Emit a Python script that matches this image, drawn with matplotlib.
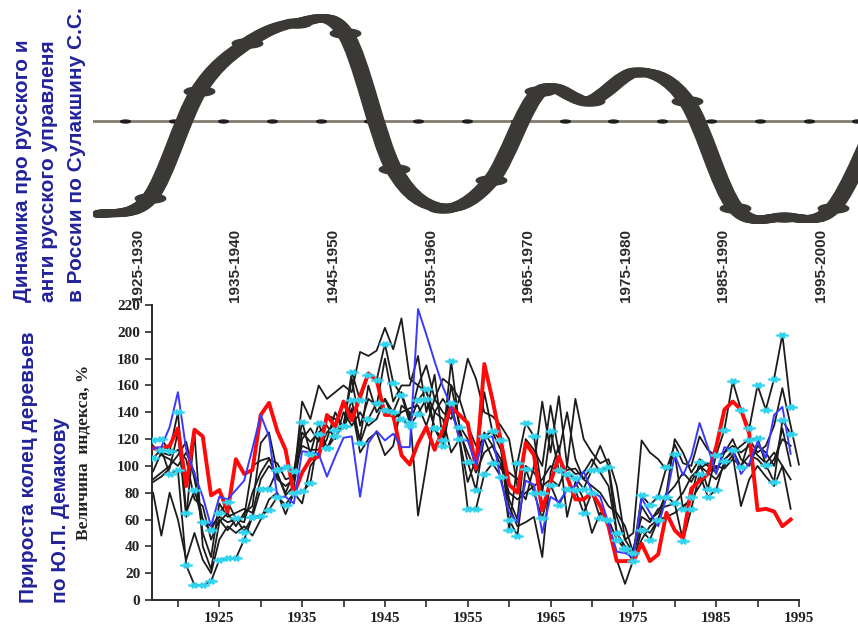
# -*- coding: utf-8 -*-
# Two stacked panels: Sulakshin cycle (top) and tree-ring index (bottom)

import numpy as np
import matplotlib.pyplot as plt
from matplotlib.path import Path
from matplotlib.patches import PathPatch
from matplotlib.transforms import offset_copy, ScaledTranslation
from matplotlib.ticker import MultipleLocator, FuncFormatter


# %% data
# -------

# top panel: five-year periods and the index (above / below the zero line)
periods = ['1920-1925', '1925-1930', '1930-1935', '1935-1940', '1940-1945',
           '1945-1950', '1950-1955', '1955-1960', '1960-1965', '1965-1970',
           '1970-1975', '1975-1980', '1980-1985', '1985-1990', '1990-1995',
           '1995-2000', '2000-2005']
cycle = [-9.3, -7.7, 3.0, 7.8, 9.8, 8.8, -4.8, -8.7, -5.9, 3.0,
         2.0, 4.9, 2.0, -8.7, -9.6, -8.7, 1.0]

# bottom panel: tree-ring index, %
years = list(range(1917, 1996))

red = [113, 113, 115, 128, 85, 127, 122, 78, 82, 66,
       105, 94, 97, 138, 147, 126, 112, 79, 95, 105,
       107, 138, 129, 148, 134, 152, 169, 164, 138, 138,
       108, 101, 117, 129, 112, 127, 144, 138, 132, 98,
       176, 149, 119, 86, 80, 117, 108, 67, 88, 107,
       92, 75, 75, 80, 70, 55, 29, 29, 29, 42,
       29, 34, 65, 52, 46, 83, 89, 94, 114, 142,
       148, 142, 124, 67, 68, 66, 55, 60]

blue = [113, 114, 129, 155, 112, 94, 77, 55, 77, 75,
        82, 89, 113, 138, 122, 77, 77, 72, 111, 110,
        109, 92, 107, 121, 122, 77, 117, 126, 119, 124,
        114, 114, 217, 198, 178, 159, 144, 119, 119, 101,
        121, 122, 89, 65, 58, 89, 86, 50, 77, 73,
        82, 85, 96, 81, 77, 57, 36, 35, 32, 76,
        65, 55, 77, 108, 93, 107, 132, 114, 94, 114,
        112, 94, 102, 118, 106, 138, 144, 109]

cyan_hi = [119, 120, 111, 140, 65, 82, 58, 52, 65, 73,
           61, 51, 62, 83, 83, 97, 99, 96, 133, 109,
           132, 113, 127, 130, 170, 149, 168, 164, 191, 162,
           153, 132, 149, 157, 128, 119, 178, 129, 103, 82,
           122, 126, 119, 52, 102, 132, 122, 80, 126, 97,
           94, 91, 83, 97, 97, 99, 50, 39, 35, 78,
           71, 77, 99, 109, 68, 77, 103, 83, 108, 127,
           163, 142, 128, 160, 142, 165, 198, 144]

cyan_lo = [106, 112, 94, 97, 26, 11, 11, 14, 30, 31,
           31, 45, 62, 63, 67, 77, 71, 80, 81, 87,
           124, 113, 122, 130, 149, 117, 135, 147, 142, 140,
           135, 130, 139, 150, 128, 115, 147, 120, 68, 68,
           94, 102, 92, 60, 48, 98, 80, 61, 86, 71,
           83, 82, 65, 80, 61, 60, 45, 38, 29, 52,
           45, 60, 77, 72, 44, 68, 94, 77, 82, 104,
           112, 99, 119, 121, 101, 88, 134, 124]

black_1 = [90, 95, 100, 108, 118, 90, 60, 55, 62, 58,
           60, 62, 100, 104, 106, 90, 85, 90, 148, 135,
           160, 150, 155, 160, 155, 185, 182, 186, 203, 187,
           210, 165, 160, 175, 150, 165, 160, 150, 180, 165,
           140, 137, 130, 120, 85, 75, 100, 148, 110, 152,
           100, 150, 120, 110, 102, 105, 85, 45, 50, 119,
           110, 105, 97, 116, 102, 100, 122, 112, 107, 110,
           115, 110, 115, 108, 102, 110, 100, 90]

black_2 = [80, 48, 80, 60, 30, 50, 30, 20, 45, 55,
           50, 55, 48, 60, 75, 80, 64, 80, 72, 100,
           108, 120, 140, 128, 143, 110, 120, 125, 108, 115,
           145, 140, 63, 100, 140, 135, 110, 120, 88, 105,
           125, 115, 105, 70, 55, 58, 62, 32, 95, 115,
           62, 88, 75, 50, 65, 58, 30, 12, 30, 45,
           55, 60, 78, 85, 95, 88, 100, 95, 90, 100,
           108, 70, 90, 100, 92, 85, 100, 68]

black_3 = [88, 92, 98, 125, 62, 124, 40, 23, 58, 65,
           55, 65, 70, 117, 125, 95, 78, 85, 120, 128,
           118, 138, 135, 130, 165, 130, 150, 145, 180, 148,
           160, 160, 182, 140, 168, 118, 160, 130, 120, 100,
           155, 125, 112, 75, 60, 120, 112, 100, 145, 110,
           140, 105, 90, 100, 115, 100, 62, 45, 35, 70,
           60, 65, 80, 120, 110, 95, 105, 100, 95, 110,
           120, 105, 100, 115, 110, 100, 128, 100]

black_4 = [115, 108, 105, 100, 110, 95, 50, 32, 72, 62,
           65, 68, 65, 90, 100, 93, 80, 95, 115, 112,
           112, 125, 132, 145, 140, 120, 160, 140, 150, 140,
           155, 135, 160, 155, 140, 150, 140, 125, 110, 95,
           110, 115, 100, 80, 75, 80, 85, 90, 100, 95,
           97, 98, 90, 85, 80, 70, 65, 55, 35, 55,
           50, 60, 62, 65, 70, 75, 85, 95, 100, 98,
           105, 100, 108, 105, 98, 105, 120, 115]

black_5 = [96, 110, 108, 112, 105, 75, 70, 45, 60, 52,
           60, 58, 80, 95, 105, 102, 90, 92, 125, 118,
           125, 130, 120, 140, 130, 140, 130, 135, 150, 135,
           140, 143, 145, 130, 150, 140, 135, 150, 130, 115,
           120, 105, 98, 95, 90, 100, 95, 85, 90, 85,
           100, 94, 95, 105, 95, 85, 50, 40, 38, 62,
           58, 68, 70, 72, 80, 92, 98, 102, 98, 105,
           110, 115, 120, 110, 115, 130, 158, 130, 101]

blacks = [black_1, black_2, black_3, black_4, black_5, cyan_hi, cyan_lo]


# %% figure
# ---------

fig = plt.figure(figsize=(8.58, 6.3), dpi=100)
W, H = 858, 630
dark = '#3b3935'
navy = '#23239a'


def px_box(x0, y0, x1, y1):
    # pixel box (top-left origin) -> figure fraction rect
    return [x0 / W, 1 - y1 / H, (x1 - x0) / W, (y1 - y0) / H]


# ---- top panel --------------------------------------------------------------
ax1 = fig.add_axes(px_box(93, 0, 858, 225))
xs = np.arange(len(cycle))
ax1.set_xlim(-8 / 48.8, 757 / 48.8)
ax1.set_ylim(-10.4, 12.1)
for s in ax1.spines.values():
    s.set_visible(False)
ax1.set_yticks([])
ax1.axhline(0, color='#857c70', lw=2, zorder=1)

# smoothed line (Catmull-Rom as cubic bezier segments)
pts = np.column_stack([xs, cycle]).astype(float)
ext = np.vstack([pts[0], pts, pts[-1]])
verts = [pts[0]]
codes = [Path.MOVETO]
for i in range(len(pts) - 1):
    p0, p1, p2, p3 = ext[i], ext[i + 1], ext[i + 2], ext[i + 3]
    verts += [p1 + (p2 - p0) / 6, p2 - (p3 - p1) / 6, p2]
    codes += [Path.CURVE4] * 3
curve = Path(verts, codes)

# stretched-looking stroke: the same path shifted sideways a few pixels
for dx in np.linspace(-5, 5, 11):
    tr = offset_copy(ax1.transData, fig=fig, x=dx, y=0, units='dots')
    ax1.add_patch(PathPatch(curve, transform=tr, fill=False,
                            lw=5.5, edgecolor=dark, zorder=3,
                            capstyle='round', joinstyle='round'))

t = np.linspace(0, 2 * np.pi, 40)
ellipse = Path(np.column_stack([np.cos(t), 0.3 * np.sin(t)]))
ax1.plot(xs[1:], cycle[1:], ls='none', marker=ellipse, ms=22,
         color=dark, zorder=4)
ax1.plot(xs[:-1] + 0.5, np.zeros(len(xs) - 1), ls='none', marker=ellipse,
         ms=7, color='#1e1e1e', zorder=2)

ax1.set_xticks(xs[1::2])
ax1.set_xticklabels(periods[1::2], rotation=90, fontsize=11,
                    fontweight='bold', color='#2a2a2a',
                    family='Liberation Sans')
ax1.tick_params(axis='x', length=0, pad=3)
shift = ScaledTranslation(-12 / 100, 0, fig.dpi_scale_trans)
for lbl in ax1.get_xticklabels():
    lbl.set_transform(lbl.get_transform() + shift)

# ---- bottom panel -----------------------------------------------------------
ax2 = fig.add_axes(px_box(152, 305, 802, 600))
ax2.set_xlim(1916.87, 1995.37)
ax2.set_ylim(0, 220)

for s in blacks:
    ax2.plot(years[:len(s)], s, color='#1c1c1c', lw=1.3, zorder=2)
ax2.plot(years[:len(red)], red, color='#ff0a0a', lw=2.8, zorder=3)
ax2.plot(years[:len(blue)], blue, color='#3a3aff', lw=1.4, zorder=4)

star = Path([(-1, 0), (1, 0), (-0.4, -0.45), (0.4, 0.45),
             (-0.4, 0.45), (0.4, -0.45)],
            [Path.MOVETO, Path.LINETO, Path.MOVETO, Path.LINETO,
             Path.MOVETO, Path.LINETO])
for s in (cyan_hi, cyan_lo):
    ax2.plot(years[:len(s)], s, ls='none', marker=star, ms=9, mew=1.7,
             mec='#30d4ee', zorder=5)

ax2.spines['top'].set_visible(False)
ax2.spines['right'].set_visible(False)
ax2.spines['left'].set_bounds(0, 220)
ax2.spines['bottom'].set_bounds(1916.87, 1995)
for side in ('left', 'bottom'):
    ax2.spines[side].set_color('#2a2a2a')
    ax2.spines[side].set_linewidth(1.4)
ax2.yaxis.set_major_locator(MultipleLocator(20))
ax2.xaxis.set_major_locator(MultipleLocator(5))
ax2.xaxis.set_major_formatter(
    FuncFormatter(lambda v, p: '%d' % v if int(round(v)) % 10 == 5 else ''))
ax2.tick_params(direction='out', length=5, width=1.2, color='#2a2a2a')
ax2.tick_params(axis='x', pad=4)
for lbl in ax2.get_xticklabels() + ax2.get_yticklabels():
    lbl.set_family('Liberation Serif')
    lbl.set_fontweight('bold')
    lbl.set_fontsize(11)
    lbl.set_color('#222222')
ax2.set_ylabel('Величина  индекса, %', family='Liberation Serif',
               fontweight='bold', fontsize=12.5, color='#222222')
ax2.yaxis.set_label_coords(-(152 - 92) / 650, 0.5)

# ---- side captions ----------------------------------------------------------
top_lines = ['Динамика про русского и',
             'анти русского управленя',
             'в России по Сулакшину С.С.']
for x_px, line in zip([22, 49, 76], top_lines):
    fig.text(x_px / W, 1 - 302 / H, line, rotation=90, rotation_mode='anchor',
             ha='left', va='center', color=navy, fontsize=15,
             fontweight='bold', family='Liberation Sans')

bottom_lines = ['Прироста колец деревьев', 'по Ю.П. Демакову']
for x_px, line in zip([28, 60], bottom_lines):
    fig.text(x_px / W, 1 - 603 / H, line, rotation=90, rotation_mode='anchor',
             ha='left', va='center', color=navy, fontsize=15,
             fontweight='bold', family='Liberation Sans')

fig.savefig('out.png', dpi=100)
